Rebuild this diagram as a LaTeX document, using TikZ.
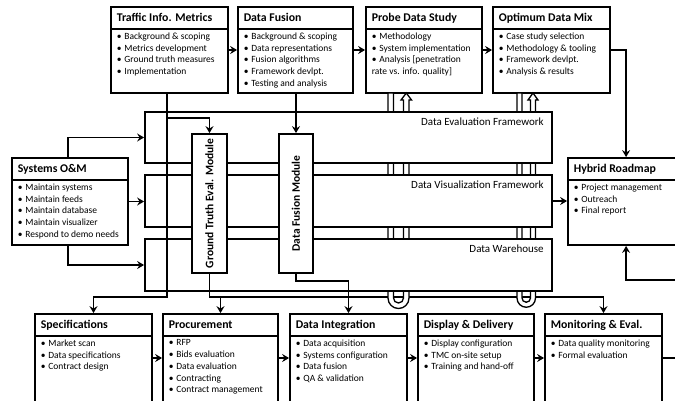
\documentclass[tikz,border=0pt]{standalone}
\usepackage{fontspec}
\setmainfont{Carlito}
\usetikzlibrary{arrows.meta,fit}
\newcommand\bl{\textbullet\hspace{0.3em}}
\newcommand\pbox[7]{%
  \node[box, fit={(#2,#3)(#4,#5)}] (#1) {};
  \draw[seprule] ([yshift=-23pt]#1.north west) -- ([yshift=-23pt]#1.north east);
  \node[hdr] at ([xshift=6.5pt,yshift=-15pt]#1.north west) {#6};
  \node[bul] at ([xshift=6.5pt,yshift=-26.5pt]#1.north west) {#7};
}
\newcommand\pipeloop[6]{%
  \path[pipe] (#1,#5) -- (#1,#6) arc[start angle=180,end angle=0,radius={(#4-#1)/2}]
    -- (#4,100) -- ({#4+2.5},100) -- ({(#3+#4)/2},#5) -- ({#3-2.5},100) -- (#3,100)
    -- (#3,#6) arc[start angle=0,end angle=180,radius={(#3-#2)/2}] -- (#2,#5) -- cycle;
}
\begin{document}
\begin{tikzpicture}[x=1pt,y=-1pt,
  box/.style={draw, line width=1.8pt, fill=white, inner sep=0pt},
  fwbox/.style={draw, line width=1.8pt, fill=white, inner sep=0pt},
  seprule/.style={line width=1.5pt},
  hdr/.style={font=\fontsize{11.8}{14}\selectfont\bfseries, anchor=base west, inner sep=0pt},
  bul/.style={font=\fontsize{9.5}{11.7}\selectfont, anchor=north west, align=left, inner sep=0pt},
  fwlabel/.style={font=\fontsize{11}{13}\selectfont, anchor=east, inner sep=0pt},
  modlabel/.style={font=\fontsize{11.5}{13}\selectfont\bfseries, rotate=90, inner sep=0pt},
  conn/.style={line width=1.8pt, line cap=rect},
  arr/.style={conn, -{Stealth[length=7pt,width=8pt,inset=2.5pt]}},
  pipe/.style={draw, fill=white, line width=1.3pt, line join=miter},
]
\useasboundingbox (0,0) rectangle (675,400);
\clip (0,0) rectangle (675,400);
\fill[white] (0,0) rectangle (675,400);

% ---- task boxes
\pbox{tim}{111}{7}{228}{93}{Traffic Info. Metrics}{\bl Background \& scoping\\ \bl Metrics development\\ \bl Ground truth measures\\ \bl Implementation}
\pbox{dfu}{238}{7}{353}{93}{Data Fusion}{\bl Background \& scoping\\ \bl Data representations\\ \bl Fusion algorithms\\ \bl Framework devlpt.\\ \bl Testing and analysis}
\pbox{pds}{366}{7}{482}{93}{Probe Data Study}{\bl Methodology\\ \bl System implementation\\ \bl Analysis [penetration\\ rate vs. info. quality]}
\pbox{odm}{493}{7}{610}{93}{Optimum Data Mix}{\bl Case study selection\\ \bl Methodology \& tooling\\ \bl Framework devlpt.\\ \bl Analysis \& results}
\pbox{som}{12}{158}{128}{245}{Systems O\&M}{\bl Maintain systems\\ \bl Maintain feeds\\ \bl Maintain database\\ \bl Maintain visualizer\\ \bl Respond to demo needs}
\pbox{hyb}{568}{158}{700}{245}{Hybrid Roadmap}{\bl Project management\\ \bl Outreach\\ \bl Final report}
\pbox{spe}{35}{314}{152}{410}{Specifications}{\bl Market scan\\ \bl Data specifications\\ \bl Contract design}
\pbox{pro}{163}{314}{278}{410}{Procurement}{\bl RFP\\ \bl Bids evaluation\\ \bl Data evaluation\\ \bl Contracting\\ \bl Contract management}
\pbox{din}{290}{314}{407}{410}{Data Integration}{\bl Data acquisition\\ \bl Systems configuration\\ \bl Data fusion\\ \bl QA \& validation}
\pbox{dad}{418}{314}{534}{410}{Display \& Delivery}{\bl Display configuration\\ \bl TMC on-site setup\\ \bl Training and hand-off}
\pbox{mev}{545}{314}{662}{410}{Monitoring \& Eval.}{\bl Data quality monitoring\\ \bl Formal evaluation}

% ---- helper coordinates
\coordinate (y297) at (0,297);
\coordinate (y281) at (0,281);
\coordinate (y118) at (0,118);
\coordinate (ay) at (0,358);
\coordinate (gtj) at (209.5,297);
\coordinate (hout) at (680,280);
\coordinate (mout) at (680,358);

% ---- trunk from ground truth module to procurement and monitoring
\draw[arr] (gtj) -| (mev.north);
\draw[arr] (pro.north |- gtj) -- (pro.north);

% ---- data pipes (loops)
\pipeloop{388}{393.5}{403.5}{409}{93}{298}
\pipeloop{517}{522}{530.5}{535.5}{93}{298}

% ---- frameworks
\node[fwbox, fit={(145,112)(552,163)}] (def) {};
\node[fwbox, fit={(145,175)(552,227)}] (dvf) {};
\node[fwbox, fit={(145,239)(552,291)}] (dwh) {};
\node[fwlabel] at ([xshift=-9pt,yshift=-11pt]def.north east) {Data Evaluation Framework};
\node[fwlabel] at ([xshift=-9pt,yshift=-11pt]dvf.north east) {Data Visualization Framework};
\node[fwlabel] at ([xshift=-9pt,yshift=-11pt]dwh.north east) {Data Warehouse};

% ---- systems O&M feeds
\draw[arr] ([xshift=57pt]som.north west) |- (def.west);
\draw[arr] (som.east) -- (som.east -| dvf.west);
\draw[arr] ([xshift=57pt]som.south west) |- (dwh.west);

% ---- traffic info metrics line
\coordinate (tj) at ([xshift=57pt]tim.south west);
\draw[arr] (tj) -- (tj |- y297) -| (spe.north);

% ---- modules
\node[fwbox, fit={(192,134)(227,273)}] (gtm) {};
\node[fwbox, fit={(279,134)(313,273)}] (dfm) {};
\node[modlabel] at (gtm.center) {Ground Truth Eval. Module};
\node[modlabel] at (dfm.center) {Data Fusion Module};

\draw[arr] (tj |- y118) -| (gtm.north);
\draw[arr] (dfm.north |- dfu.south) -- (dfm.north);
\draw[conn] (gtm.south) -- (gtj);
\draw[arr] (dfm.south) -- (dfm.south |- y281) -| (din.north);

% ---- top row
\draw[arr] (tim.east) -- (dfu.west);
\draw[arr] (dfu.east) -- (pds.west);
\draw[arr] (pds.east) -- (odm.west);
\draw[arr] (odm.east) -| ([xshift=59pt]hyb.north west);
\draw[arr] (dvf.east) -- (dvf.east -| hyb.west);

% ---- bottom row
\draw[arr] (spe.east |- ay) -- (pro.west |- ay);
\draw[arr] (pro.east |- ay) -- (din.west |- ay);
\draw[arr] (din.east |- ay) -- (dad.west |- ay);
\draw[arr] (dad.east |- ay) -- (mev.west |- ay);
\draw[conn] (mev.east |- ay) -- (mout);
\draw[arr] (hout) -| ([xshift=59pt]hyb.south west);
\end{tikzpicture}
\end{document}
